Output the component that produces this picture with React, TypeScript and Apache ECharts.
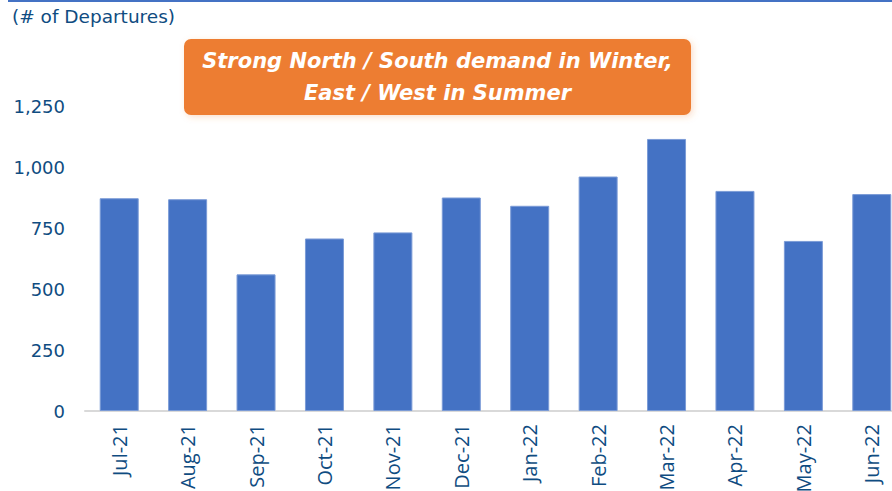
import React, { useEffect, useRef } from "react";
import * as echarts from "echarts";

const months = ["Jul-21", "Aug-21", "Sep-21", "Oct-21", "Nov-21", "Dec-21", "Jan-22", "Feb-22", "Mar-22", "Apr-22", "May-22", "Jun-22"];
const departures = [872, 868, 560, 707, 732, 875, 841, 961, 1115, 902, 697, 889];
const yTicks = { min: 0, max: 1250, interval: 250 };
const unitLabel = "(# of Departures)";
const noteLines = ["Strong North / South demand in Winter,", "East / West in Summer"];

const TEXT = "#0f4c81";

export default function App() {
  const ref = useRef<HTMLDivElement>(null);
  useEffect(() => {
    if (!ref.current) return;
    const chart = echarts.init(ref.current, undefined, { renderer: "svg" });
    chart.setOption({
      animation: false,
      backgroundColor: "#ffffff",
      grid: { left: 85, right: 0, top: 106, bottom: 80, containLabel: false, outerBoundsMode: "none" },
      xAxis: {
        type: "category",
        data: months,
        axisLine: { show: true, lineStyle: { color: "#d9d9d9", width: 2 } },
        axisTick: { show: false },
        axisLabel: {
          rotate: 90,
          interval: 0,
          margin: 13,
          color: TEXT,
          fontSize: 20,
          fontFamily: "Open Sans",
        },
      },
      yAxis: {
        type: "value",
        min: yTicks.min,
        max: yTicks.max,
        interval: yTicks.interval,
        splitLine: { show: false },
        axisLine: { show: false },
        axisTick: { show: false },
        axisLabel: {
          margin: 20,
          color: TEXT,
          fontSize: 18,
          fontFamily: "DejaVu Sans",
          formatter: (v: number) => v.toLocaleString("en-US"),
        },
      },
      series: [
        {
          type: "bar",
          data: departures,
          barWidth: 39,
          itemStyle: { color: "#4472C4", borderColor: "#7b9bd6", borderWidth: 1 },
        },
      ],
      graphic: [
        {
          type: "line",
          shape: { x1: 8, y1: 1, x2: 892, y2: 1 },
          style: { stroke: "#4472C4", lineWidth: 2 },
        },
        {
          type: "text",
          left: 12,
          top: 7,
          style: { text: unitLabel, fill: TEXT, font: "18.5px 'DejaVu Sans'" },
        },
        {
          type: "rect",
          shape: { x: 184, y: 39, width: 507, height: 76, r: 7 },
          style: {
            fill: "#ED7D31",
            shadowBlur: 6,
            shadowColor: "rgba(237,125,49,0.25)",
            shadowOffsetX: 2,
            shadowOffsetY: 2,
          },
        },
        {
          type: "text",
          x: 437.5,
          y: 61,
          style: {
            text: noteLines[0],
            fill: "#ffffff",
            font: "italic bold 21px 'DejaVu Sans'",
            align: "center",
            verticalAlign: "middle",
          },
        },
        {
          type: "text",
          x: 437.5,
          y: 93,
          style: {
            text: noteLines[1],
            fill: "#ffffff",
            font: "italic bold 21px 'DejaVu Sans'",
            align: "center",
            verticalAlign: "middle",
          },
        },
      ],
    });
    return () => chart.dispose();
  }, []);
  return (
    <div style={{ position: "absolute", left: 0, top: 0, width: 892, height: 491, overflow: "hidden" }}>
      <div ref={ref} style={{ width: 906, height: 491 }} />
    </div>
  );
}
